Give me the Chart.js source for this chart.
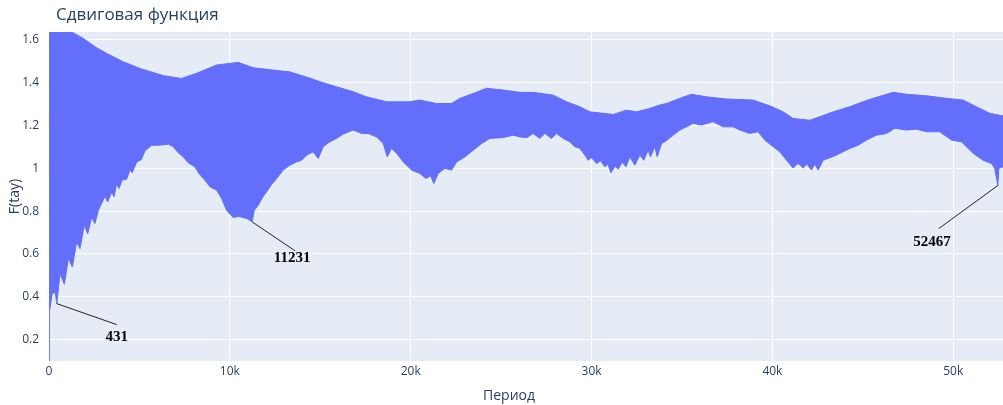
<!DOCTYPE html>
<html>
<head>
<meta charset="utf-8">
<script src="https://cdn.jsdelivr.net/npm/chart.js@4.4.0/dist/chart.umd.min.js"></script>
<style>
  html, body { margin: 0; padding: 0; background: #fff; }
  #wrap { width: 1003px; height: 405px; position: relative; }
</style>
</head>
<body>
<div id="wrap"><canvas id="chart"></canvas></div>
<script>
// upper edge of the F(tay) oscillation band: period (thousands) and value
const upperK = [0, 0.9, 1.2, 1.9, 2.6, 3.19, 4.1, 5.03, 6.32, 7.33, 8.16, 9.27, 10.47, 11.3, 12.4, 13.3, 14.3, 14.98, 15.9, 16.82,
  17.56, 18.67, 19.96, 20.5, 21.43, 22.26, 22.72, 23.46, 24.2, 25.11, 26.04, 26.77, 27.88, 28.62, 29.35, 29.9, 30.64, 31.2, 31.93, 32.49,
  33.22, 33.78, 34.15, 34.88, 35.53, 36.36, 37.46, 38.93, 39.86, 40.59, 41.14, 42.07, 42.62, 43.36, 44.28, 45.01, 45.57, 46.67, 47.41, 48.52,
  49.62, 50.54, 51.28, 52.02, 52.75]
const upper = [1.75, 1.72, 1.64, 1.607, 1.565, 1.537, 1.498, 1.467, 1.433, 1.420, 1.444, 1.483, 1.495, 1.470, 1.459, 1.451, 1.425, 1.405, 1.381, 1.358,
  1.334, 1.311, 1.311, 1.319, 1.303, 1.303, 1.327, 1.350, 1.374, 1.366, 1.355, 1.355, 1.342, 1.311, 1.288, 1.264, 1.257, 1.252, 1.272, 1.264,
  1.280, 1.296, 1.303, 1.327, 1.346, 1.334, 1.324, 1.319, 1.292, 1.264, 1.233, 1.225, 1.241, 1.264, 1.288, 1.311, 1.327, 1.355, 1.346, 1.339,
  1.327, 1.319, 1.288, 1.257, 1.245]

// lower edge (saw-tooth dips kept)
const lowerK = [0, 0.02, 0.18, 0.35, 0.43, 0.61, 0.85, 1.07, 1.29, 1.53, 1.71, 1.95, 2.14, 2.36, 2.54, 2.73, 3.1, 3.24, 3.47, 3.6,
  3.74, 3.87, 4.05, 4.3, 4.48, 4.6, 4.85, 5.1, 5.31, 5.68, 6.05, 6.6, 6.87, 7.15, 7.42, 7.7, 8.07, 8.29, 8.62, 8.9,
  9.27, 9.55, 9.82, 10.19, 10.47, 10.93, 11.23, 11.35, 11.57, 11.85, 12.03, 12.31, 12.59, 12.95, 13.32, 13.69, 13.97, 14.25, 14.61, 14.89,
  15.16, 15.53, 15.9, 16.27, 16.82, 17.29, 17.65, 18.11, 18.48, 18.7, 18.94, 19.22, 19.59, 20.05, 20.51, 20.84, 21.1, 21.28, 21.52, 21.89,
  22.26, 22.54, 23.0, 23.46, 23.92, 24.38, 25.11, 25.67, 26.04, 26.41, 26.77, 27.14, 27.42, 27.79, 28.06, 28.43, 28.8, 29.08, 29.35, 29.63,
  29.81, 30.0, 30.28, 30.5, 30.74, 30.9, 31.07, 31.3, 31.47, 31.7, 31.9, 32.12, 32.39, 32.67, 32.89, 33.13, 33.26, 33.5, 33.63, 33.87,
  34.05, 34.51, 34.88, 35.25, 35.62, 36.08, 36.72, 37.28, 37.83, 38.2, 38.75, 39.21, 39.58, 40.04, 40.41, 40.78, 41.14, 41.42, 41.7, 41.9,
  42.16, 42.35, 42.53, 42.8, 43.17, 43.54, 43.9, 44.28, 44.74, 45.2, 45.75, 46.31, 46.77, 47.41, 47.96, 48.52, 49.25, 49.9, 50.45, 51.1,
  51.65, 52.11, 52.29, 52.467, 52.52, 52.75]
const lower = [0.10, 0.33, 0.415, 0.42, 0.368, 0.508, 0.458, 0.579, 0.539, 0.656, 0.625, 0.734, 0.695, 0.770, 0.742, 0.804, 0.870, 0.843, 0.890, 0.867,
  0.929, 0.906, 0.945, 0.95, 0.995, 0.979, 1.030, 1.04, 1.082, 1.108, 1.108, 1.113, 1.101, 1.073, 1.054, 1.026, 1.007, 0.976, 0.945, 0.914,
  0.898, 0.859, 0.804, 0.770, 0.776, 0.766, 0.750, 0.804, 0.828, 0.870, 0.890, 0.925, 0.953, 0.992, 1.015, 1.030, 1.038, 1.062, 1.077, 1.046,
  1.101, 1.124, 1.140, 1.160, 1.179, 1.163, 1.163, 1.147, 1.116, 1.054, 1.093, 1.070, 1.030, 0.992, 0.976, 0.953, 0.965, 0.929, 0.976, 1.0,
  0.992, 1.030, 1.054, 1.085, 1.116, 1.140, 1.144, 1.155, 1.147, 1.143, 1.163, 1.140, 1.163, 1.140, 1.163, 1.140, 1.124, 1.101, 1.093, 1.062,
  1.038, 1.05, 1.023, 1.035, 1.007, 1.02, 0.980, 1.01, 0.996, 1.03, 1.007, 1.054, 1.015, 1.062, 1.038, 1.085, 1.054, 1.101, 1.054, 1.116,
  1.124, 1.155, 1.179, 1.194, 1.210, 1.202, 1.218, 1.194, 1.194, 1.179, 1.163, 1.171, 1.132, 1.101, 1.077, 1.038, 1.002, 1.023, 1.002, 1.02,
  0.992, 1.02, 0.992, 1.038, 1.049, 1.062, 1.077, 1.093, 1.108, 1.132, 1.155, 1.163, 1.187, 1.179, 1.183, 1.171, 1.171, 1.132, 1.124, 1.070,
  1.038, 1.023, 1.0, 0.92, 1.0, 1.007]

// annotated minima
const annLabels = ['431', '11231', '52467']
const annPeriods = [431, 11231, 52467]
const annValues = [0.368, 0.75, 0.92]

const xTicks = [0, 10000, 20000, 30000, 40000, 50000]
const yTicks = [0.2, 0.4, 0.6, 0.8, 1, 1.2, 1.4, 1.6]

const BLUE = '#636efa'
const FONT = '"Open Sans", "Noto Sans", sans-serif'
const TXT = '#2a3f5f'

// pixel offsets of the annotation text / arrow end from the point
const annOffsets = [
  {tx: 60, ty: 33, lx: 60, ly: 21},
  {tx: 40, ty: 36, lx: 43, ly: 29},
  {tx: -66, ty: 57, lx: -59, ly: 43},
]

const bgPlugin = {
  id: 'bg',
  beforeDraw(chart) {
    const {ctx, chartArea: a} = chart
    ctx.save()
    ctx.fillStyle = '#e5ecf6'
    ctx.fillRect(a.left, a.top, a.right - a.left, a.bottom - a.top)
    ctx.restore()
  }
}

const textPlugin = {
  id: 'texts',
  afterDraw(chart) {
    const {ctx, chartArea: a, scales} = chart
    ctx.save()
    // title
    ctx.fillStyle = TXT
    ctx.font = '17px ' + FONT
    ctx.textAlign = 'left'
    ctx.textBaseline = 'middle'
    ctx.fillText('Сдвиговая функция', 56, 15)
    // axis titles
    ctx.font = '14px ' + FONT
    ctx.textAlign = 'center'
    ctx.fillText('Период', 509, 396)
    ctx.translate(15, (a.top + a.bottom) / 2)
    ctx.rotate(-Math.PI / 2)
    ctx.fillText('F(tay)', 0, 0)
    ctx.restore()

    // annotations
    ctx.save()
    annLabels.forEach((lab, i) => {
      const px = scales.x.getPixelForValue(annPeriods[i])
      const py = scales.y.getPixelForValue(annValues[i])
      const o = annOffsets[i]
      ctx.strokeStyle = '#222'
      ctx.lineWidth = 1
      ctx.beginPath()
      ctx.moveTo(px, py)
      ctx.lineTo(px + o.lx, py + o.ly)
      ctx.stroke()
      ctx.fillStyle = '#000'
      ctx.font = 'bold 15px "Liberation Serif", "DejaVu Serif", serif'
      ctx.textAlign = 'center'
      ctx.textBaseline = 'middle'
      ctx.fillText(lab, px + o.tx, py + o.ty)
    })
    ctx.restore()
  }
}

const pts = (ks, vs) => vs.map((v, i) => ({x: ks[i] * 1000, y: v}))

new Chart(document.getElementById('chart'), {
  type: 'line',
  data: {
    datasets: [
      {
        label: 'lower',
        data: pts(lowerK, lower),
        borderColor: BLUE,
        borderWidth: 1,
        pointRadius: 0,
        fill: false,
      },
      {
        label: 'F(tay)',
        data: pts(upperK, upper),
        borderColor: BLUE,
        backgroundColor: BLUE,
        borderWidth: 1,
        pointRadius: 0,
        fill: '-1',
      },
    ],
  },
  options: {
    responsive: true,
    maintainAspectRatio: false,
    animation: false,
    parsing: false,
    layout: {padding: {top: 32, right: 0, left: 0, bottom: 0}},
    plugins: {legend: {display: false}, tooltip: {enabled: false}},
    scales: {
      x: {
        type: 'linear',
        min: 0,
        max: 52750,
        afterFit: s => { s.height = 44 },
        afterBuildTicks: s => { s.ticks = xTicks.map(v => ({value: v})) },
        grid: {color: '#ffffff', lineWidth: 1, drawTicks: false},
        border: {display: false},
        ticks: {
          padding: 3,
          color: TXT,
          font: {family: FONT, size: 12},
          maxRotation: 0,
          callback: v => v === 0 ? '0' : (v / 1000) + 'k',
        },
      },
      y: {
        min: 0.1,
        max: 1.637,
        afterFit: s => { s.width = 49 },
        afterBuildTicks: s => { s.ticks = yTicks.map(v => ({value: v})) },
        grid: {color: '#ffffff', lineWidth: 1, drawTicks: false},
        border: {display: false},
        ticks: {
          padding: 10,
          color: TXT,
          font: {family: FONT, size: 12},
          callback: v => String(Math.round(v * 10) / 10),
        },
      },
    },
  },
  plugins: [bgPlugin, textPlugin],
})
</script>
</body>
</html>
